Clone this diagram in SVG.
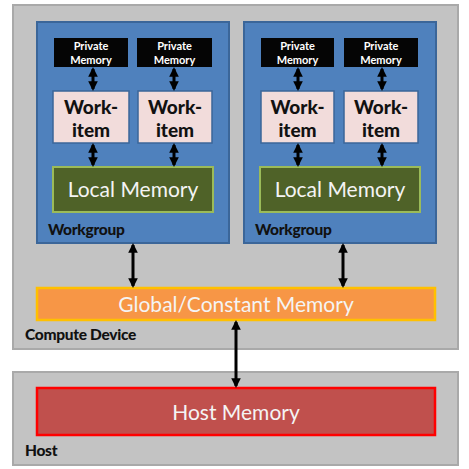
<svg xmlns="http://www.w3.org/2000/svg" width="469" height="469" viewBox="0 0 469 469">
<defs>
<style>
.bg{fill:#c3c3c3;stroke:#a9a9a9;stroke-width:2}
.wg{fill:#4f81bd;stroke:#3b6699;stroke-width:2}
.pm{fill:#050505}
.wi{fill:#f2dcdb;stroke:#3b6699;stroke-width:1.5}
.lm{fill:#4f6228;stroke:#9bbb59;stroke-width:2}
.gm{fill:#f79646;stroke:#ffc000;stroke-width:2.5}
.hm{fill:#c0504d;stroke:#ff0000;stroke-width:2.5}
.lbl{font-family:Lato,"Open Sans",sans-serif;font-weight:900;fill:#111;font-size:15.5px;letter-spacing:-0.3px}
.pmt{font-family:Lato,"Open Sans",sans-serif;font-weight:bold;fill:#fff;font-size:11px;text-anchor:middle}
.wit{font-family:Lato,"Open Sans",sans-serif;font-weight:900;fill:#111;font-size:19px;text-anchor:middle}
.big{font-family:Lato,"Open Sans",sans-serif;fill:#f4f4f4;font-size:21px;text-anchor:middle}
.ar{stroke:#000;stroke-width:3;fill:none;marker-start:url(#h);marker-end:url(#h)}
</style>
<marker id="h" viewBox="0 0 10 10" refX="8" refY="5" markerWidth="3.2" markerHeight="3.8" orient="auto-start-reverse" markerUnits="strokeWidth">
<path d="M0,0 L10,5 L0,10 z" fill="#000"/>
</marker>
</defs>
<rect x="0" y="0" width="469" height="469" fill="#fff"/>
<g id="compute-device">
<rect class="bg" x="13" y="5" width="445" height="344"/>
<text class="lbl" x="25" y="340">Compute Device</text>
</g>
<g id="host">
<rect class="bg" x="13" y="372" width="445" height="93"/>
<text class="lbl" x="25" y="456">Host</text>
</g>
<g id="workgroup1">
<rect class="wg" x="37" y="22" width="192" height="221"/>
<text class="lbl" x="48" y="235">Workgroup</text>
</g>
<g id="workgroup2">
<rect class="wg" x="244" y="22" width="192" height="221"/>
<text class="lbl" x="255" y="235">Workgroup</text>
</g>
<g id="pm1"><rect class="pm" x="54" y="38" width="74" height="29"/><text class="pmt" x="91" y="50">Private</text><text class="pmt" x="91" y="64">Memory</text></g>
<g id="pm2"><rect class="pm" x="137" y="38" width="75" height="29"/><text class="pmt" x="174.5" y="50">Private</text><text class="pmt" x="174.5" y="64">Memory</text></g>
<g id="pm3"><rect class="pm" x="261" y="38" width="73" height="29"/><text class="pmt" x="297.5" y="50">Private</text><text class="pmt" x="297.5" y="64">Memory</text></g>
<g id="pm4"><rect class="pm" x="344" y="38" width="74" height="29"/><text class="pmt" x="381" y="50">Private</text><text class="pmt" x="381" y="64">Memory</text></g>
<g id="wi1"><rect class="wi" x="53" y="91" width="76" height="52"/><text class="wit" x="91" y="114">Work-</text><text class="wit" x="91" y="137">item</text></g>
<g id="wi2"><rect class="wi" x="138" y="91" width="74" height="52"/><text class="wit" x="175" y="114">Work-</text><text class="wit" x="175" y="137">item</text></g>
<g id="wi3"><rect class="wi" x="261" y="91" width="73" height="52"/><text class="wit" x="297.5" y="114">Work-</text><text class="wit" x="297.5" y="137">item</text></g>
<g id="wi4"><rect class="wi" x="344" y="91" width="74" height="52"/><text class="wit" x="381" y="114">Work-</text><text class="wit" x="381" y="137">item</text></g>
<g id="lm1"><rect class="lm" x="53" y="167" width="160" height="45"/><text class="big" x="133" y="197">Local Memory</text></g>
<g id="lm2"><rect class="lm" x="260" y="167" width="160" height="45"/><text class="big" x="340" y="197">Local Memory</text></g>
<g id="global"><rect class="gm" x="37" y="288" width="398" height="32"/><text class="big" x="236" y="312">Global/Constant Memory</text></g>
<g id="hostmem"><rect class="hm" x="37" y="388" width="398" height="47"/><text class="big" x="236" y="420">Host Memory</text></g>
<g id="connectors">
<line class="ar" x1="93" y1="69" x2="93" y2="89"/>
<line class="ar" x1="174" y1="69" x2="174" y2="89"/>
<line class="ar" x1="298" y1="69" x2="298" y2="89"/>
<line class="ar" x1="382" y1="69" x2="382" y2="89"/>
<line class="ar" x1="93" y1="145" x2="93" y2="165"/>
<line class="ar" x1="174" y1="145" x2="174" y2="165"/>
<line class="ar" x1="298" y1="145" x2="298" y2="165"/>
<line class="ar" x1="382" y1="145" x2="382" y2="165"/>
<line class="ar" x1="133" y1="245" x2="133" y2="286"/>
<line class="ar" x1="343" y1="245" x2="343" y2="286"/>
<line class="ar" x1="236" y1="322" x2="236" y2="386"/>
</g>
</svg>
